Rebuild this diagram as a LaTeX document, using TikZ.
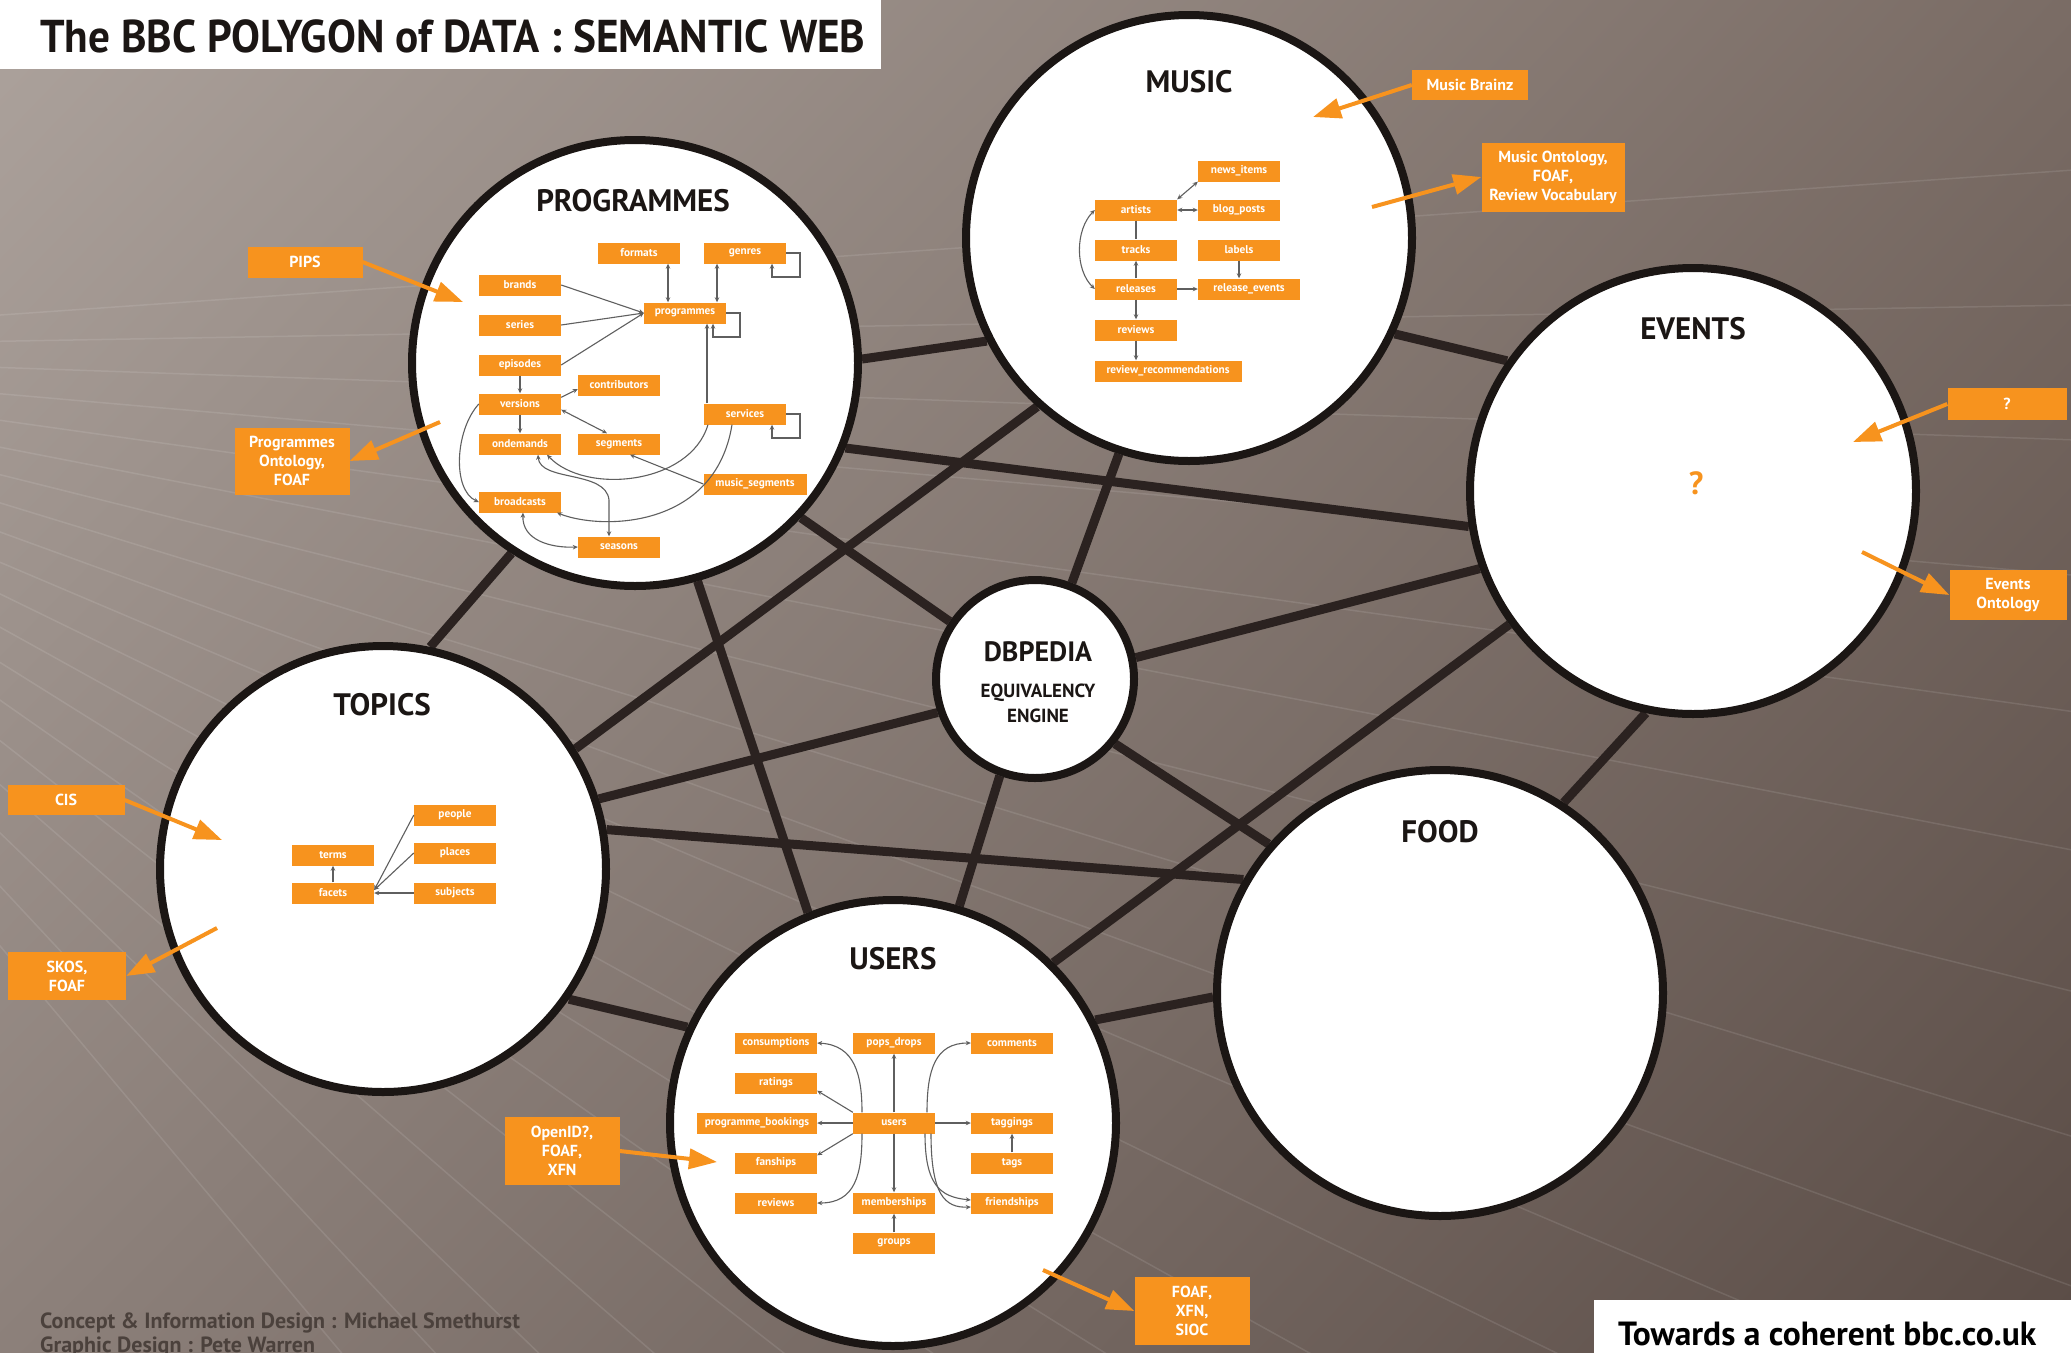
\documentclass[tikz,border=0pt]{standalone}
\usepackage{fontspec}
\setmainfont{PT Sans}
\newfontfamily\condb{PT Sans Bold}[FakeStretch=0.94]
\newfontfamily\tagf{PT Sans Bold}
\usetikzlibrary{arrows.meta,shadings}
\pgfdeclarelayer{back}
\pgfdeclarelayer{links}
\pgfsetlayers{back,links,main}
\definecolor{bbcorange}{RGB}{247,147,30}
\definecolor{ink}{RGB}{27,22,20}
\definecolor{linkc}{RGB}{43,34,32}
\definecolor{relc}{RGB}{95,95,95}
\definecolor{credit}{RGB}{75,65,60}
\definecolor{bgUL}{RGB}{172,162,156}
\definecolor{bgUR}{RGB}{122,108,101}
\definecolor{bgLL}{RGB}{140,128,122}
\definecolor{bgLR}{RGB}{90,76,70}
\begin{document}
\begin{tikzpicture}[x=1pt,y=-1pt,
  >={Stealth[length=5pt,width=4.5pt]},
  hub/.style={circle,draw=ink,line width=8pt,fill=white,minimum size=446pt,inner sep=0pt},
  dbhub/.style={hub,minimum size=198pt},
  hublink/.style={draw=linkc,line width=9pt},
  hubtitle/.style={font=\bfseries\fontsize{31}{34}\selectfont,text=ink,inner sep=0pt},
  ibox/.style={fill=bbcorange,text=white,font=\tagf\fontsize{11.3}{12}\selectfont,minimum width=82pt,minimum height=21pt,inner sep=0pt},
  rel/.style={draw=relc,line width=1.1pt,->},
  birel/.style={draw=relc,line width=1.1pt,<->},
  relplain/.style={draw=relc,line width=1.1pt},
  tagbox/.style={fill=bbcorange,text=white,font=\tagf\fontsize{16}{19}\selectfont,align=center,inner sep=0pt},
  tagarrow/.style={draw=bbcorange,line width=4pt,-{Triangle[length=28pt,width=20pt]}},
]
\useasboundingbox (0,0) rectangle (2071,1352);

% background
\begin{pgfonlayer}{back}
\shade[upper left=bgUL,upper right=bgUR,lower left=bgLL,lower right=bgLR] (0,0) rectangle (2071,1352);
\begin{scope}
\clip (0,0) rectangle (2071,1352);
\foreach \a in {-4,-1,...,50} \draw[white,opacity=0.1,line width=1.5pt] (-500,350) -- ++(\a:3800);
\end{scope}
\end{pgfonlayer}

% hubs
\node[hub] (prog) at (635,363) {};
\node[hub] (music) at (1189,238) {};
\node[hub] (events) at (1693,491) {};
\node[dbhub] (db) at (1035,679) {};
\node[hub] (topics) at (383,869) {};
\node[hub] (food) at (1440,993) {};
\node[hub] (users) at (893,1123) {};

% links between hubs
\begin{pgfonlayer}{links}
\draw[hublink] (prog.1) -- (music.207);
\draw[hublink] (music.-25) -- (events.145);
\draw[hublink] (prog.-22) -- (events.189);
\draw[hublink] (prog.-43) -- (db.146);
\draw[hublink] (prog.237) -- (topics.78);
\draw[hublink] (prog.-74) -- (users.112);
\draw[hublink] (music.252) -- (db.69);
\draw[hublink] (music.228) -- (topics.32);
\draw[hublink] (events.200) -- (db.12);
\draw[hublink] (events.216) -- (users.45);
\draw[hublink] (events.258) -- (food.57);
\draw[hublink] (db.199) -- (topics.18);
\draw[hublink] (db.250) -- (users.73);
\draw[hublink] (db.-39) -- (food.139);
\draw[hublink] (topics.10) -- (food.150);
\draw[hublink] (topics.-35) -- (users.155);
\draw[hublink] (users.27) -- (food.181);
\end{pgfonlayer}

% hub titles
\node[hubtitle] (progT) at (633,201) {PROGRAMMES};
\node[hubtitle] (musicT) at (1189,82) {MUSIC};
\node[hubtitle] (eventsT) at (1693,329) {EVENTS};
\node[hubtitle] (topicsT) at (382,705) {TOPICS};
\node[hubtitle] (foodT) at (1440,832) {FOOD};
\node[hubtitle] (usersT) at (893,959) {USERS};
\node[font=\bfseries\fontsize{28}{30}\selectfont,text=ink,inner sep=0pt] (dbT) at (1038,652) {DBPEDIA};
\node[font=\bfseries\fontsize{19}{25}\selectfont,text=ink,align=center,inner sep=0pt] (dbS) at (1038,703) {EQUIVALENCY\\ENGINE};
\node[text=bbcorange,font=\bfseries\fontsize{32}{32}\selectfont,inner sep=0pt] (evq) at (1696,483) {?};

% programmes internals
\node[ibox] (formats) at (639,253) {formats};
\node[ibox] (genres) at (745,253) {genres};
\node[ibox] (brands) at (520,285) {brands};
\node[ibox] (programmes) at (685,313) {programmes};
\node[ibox] (series) at (520,325) {series};
\node[ibox] (episodes) at (520,365) {episodes};
\node[ibox] (contributors) at (619,385) {contributors};
\node[ibox] (versions) at (520,404) {versions};
\node[ibox] (services) at (745,414) {services};
\node[ibox] (ondemands) at (520,444) {ondemands};
\node[ibox] (segments) at (619,444) {segments};
\node[ibox,minimum width=103pt] (musicseg) at (755,484) {music\_segments};
\node[ibox] (broadcasts) at (520,502) {broadcasts};
\node[ibox] (seasons) at (619,547) {seasons};

\draw[rel] (brands.east) -- (programmes.west);
\draw[rel] (series.east) -- (programmes.west);
\draw[rel] (episodes.east) -- (programmes.west);
\draw[birel] (668,0 |- formats.south) -- (668,0 |- programmes.north);
\draw[birel] (717,0 |- genres.south) -- (717,0 |- programmes.north);
\draw[rel] (genres.east) -| (800,277) -| (772,0 |- genres.south);
\draw[rel] (programmes.east) -| (740,337) -| (713,0 |- programmes.south);
\draw[rel] (services.east) -| (800,438) -| (772,0 |- services.south);
\draw[rel] (707,0 |- services.north) -- (707,0 |- programmes.south);
\draw[rel] (episodes.south) -- (versions.north);
\draw[rel] (versions.south) -- (ondemands.north);
\draw[rel] ([yshift=-4pt]versions.north east) -- ([yshift=-4pt]contributors.west);
\draw[birel] ([yshift=5pt]versions.south east) -- (607,0 |- segments.north);
\draw[rel] (versions.west) .. controls (455,430) and (452,490) .. (broadcasts.west);
\draw[rel] (708,0 |- services.south) .. controls (690,485) and (585,495) .. (547,0 |- ondemands.south);
\draw[rel] (732,0 |- services.south) .. controls (715,530) and (600,530) .. (557,0 |- broadcasts.south);
\draw[rel] (musicseg.west) -- (630,0 |- segments.south);
\draw[birel] (609,0 |- seasons.north) -- (609,500) .. controls (606,470) and (540,482) .. (538,0 |- ondemands.south);
\draw[birel] (523,0 |- broadcasts.south) .. controls (522,540) and (550,548) .. (seasons.west);

% music internals
\node[ibox] (newsitems) at (1239,171) {news\_items};
\node[ibox] (artists) at (1136,210) {artists};
\node[ibox] (blogposts) at (1239,210) {blog\_posts};
\node[ibox] (tracks) at (1136,250) {tracks};
\node[ibox] (labels) at (1239,250) {labels};
\node[ibox] (releases) at (1136,289) {releases};
\node[ibox,minimum width=102pt] (relevents) at (1249,289) {release\_events};
\node[ibox] (mreviews) at (1136,330) {reviews};
\node[ibox,minimum width=147pt] (revrec) at (1168,371) {review\_recommendations};

\draw[birel] (artists.north east) -- (newsitems.south west);
\draw[birel] (blogposts.west) -- (artists.east);
\draw[relplain] (artists.south) -- (tracks.north);
\draw[rel] (releases.north) -- (tracks.south);
\draw[birel] (artists.west) .. controls (1075,230) and (1075,270) .. (releases.west);
\draw[rel] (releases.east) -- (relevents.west);
\draw[rel] (labels.south) -- (1239,0 |- relevents.north);
\draw[rel] (releases.south) -- (mreviews.north);
\draw[rel] (mreviews.south) -- (1136,0 |- revrec.north);

% users internals
\node[ibox] (consumptions) at (776,1043) {consumptions};
\node[ibox] (popsdrops) at (894,1043) {pops\_drops};
\node[ibox] (comments) at (1012,1043) {comments};
\node[ibox] (ratings) at (776,1083) {ratings};
\node[ibox,minimum width=120pt] (progbook) at (757,1123) {programme\_bookings};
\node[ibox] (uusers) at (894,1123) {users};
\node[ibox] (taggings) at (1012,1123) {taggings};
\node[ibox] (fanships) at (776,1163) {fanships};
\node[ibox] (tags) at (1012,1163) {tags};
\node[ibox] (ureviews) at (776,1203) {reviews};
\node[ibox] (memberships) at (894,1203) {memberships};
\node[ibox] (friendships) at (1012,1203) {friendships};
\node[ibox] (groups) at (894,1243) {groups};

\draw[rel] (862,0 |- uusers.north) .. controls (862,1075) and (855,1045) .. (consumptions.east);
\draw[rel] (uusers.north west) -- ([yshift=3pt]ratings.south east);
\draw[rel] (uusers.west) -- (progbook.east);
\draw[rel] (uusers.south west) -- ([yshift=-3pt]fanships.north east);
\draw[rel] (862,0 |- uusers.south) .. controls (862,1175) and (855,1203) .. (ureviews.east);
\draw[rel] (uusers.north) -- (popsdrops.south);
\draw[rel] (uusers.south) -- (memberships.north);
\draw[rel] (groups.north) -- (memberships.south);
\draw[rel] (927,0 |- uusers.north) .. controls (927,1070) and (935,1043) .. (comments.west);
\draw[rel] (uusers.east) -- (taggings.west);
\draw[rel] (tags.north) -- (taggings.south);
\draw[rel] (925,0 |- uusers.south) .. controls (925,1185) and (940,1197) .. ([yshift=3pt]friendships.west);
\draw[rel] (931,0 |- uusers.south) .. controls (931,1195) and (945,1208) .. ([yshift=-4pt]friendships.west);

% topics internals
\node[ibox] (people) at (455,815) {people};
\node[ibox] (terms) at (333,855) {terms};
\node[ibox] (places) at (455,853) {places};
\node[ibox] (facets) at (333,893) {facets};
\node[ibox] (subjects) at (455,893) {subjects};
\draw[rel] (facets.north) -- (terms.south);
\draw[rel] (people.west) -- ([yshift=3pt]facets.east);
\draw[rel] (places.west) -- ([yshift=3pt]facets.east);
\draw[rel] (subjects.west) -- (facets.east);

% orange tags
\node[tagbox,minimum width=115pt,minimum height=31pt] (pips) at (305,262) {PIPS};
\node[tagbox,minimum width=115pt,minimum height=67pt] (progont) at (292,461) {Programmes\\Ontology,\\FOAF};
\node[tagbox,minimum width=116pt,minimum height=30pt] (brainz) at (1470,85) {Music Brainz};
\node[tagbox,minimum width=143pt,minimum height=69pt] (musont) at (1553,177) {Music Ontology,\\FOAF,\\Review Vocabulary};
\node[tagbox,minimum width=119pt,minimum height=32pt] (evqt) at (2007,404) {?};
\node[tagbox,minimum width=117pt,minimum height=50pt] (evont) at (2008,595) {Events\\Ontology};
\node[tagbox,minimum width=117pt,minimum height=30pt] (cis) at (66,800) {CIS};
\node[tagbox,minimum width=118pt,minimum height=48pt] (skos) at (67,976) {SKOS,\\FOAF};
\node[tagbox,minimum width=115pt,minimum height=68pt] (openid) at (562,1151) {OpenID?,\\FOAF,\\XFN};
\node[tagbox,minimum width=115pt,minimum height=68pt] (foafx) at (1192,1311) {FOAF,\\XFN,\\SIOC};

\coordinate (pipsT) at (463,302);
\coordinate (progontS) at (440,422);
\coordinate (brainzT) at (1313,117);
\coordinate (musontS) at (1372,207);
\coordinate (evqT) at (1853,442);
\coordinate (evontS) at (1862,552);
\coordinate (cisT) at (222,840);
\coordinate (skosS) at (217,928);
\coordinate (openidT) at (717,1162);
\coordinate (foafxS) at (1043,1270);

\draw[tagarrow] (pips.east) -- (pipsT);
\draw[tagarrow] (progontS) -- (progont.east);
\draw[tagarrow] (brainz.west) -- (brainzT);
\draw[tagarrow] (musontS) -- (musont.west);
\draw[tagarrow] (evqt.west) -- (evqT);
\draw[tagarrow] (evontS) -- (evont.west);
\draw[tagarrow] (cis.east) -- (cisT);
\draw[tagarrow] (skosS) -- (skos.east);
\draw[tagarrow] (openid.east) -- (openidT);
\draw[tagarrow] (foafxS) -- (foafx.west);

% title and footers
\node[fill=white,minimum width=881pt,minimum height=69pt,anchor=north west,inner sep=0pt] (titlebox) at (0,0) {};
\node[anchor=west,font=\condb\fontsize{46}{46}\selectfont,text=ink,inner sep=0pt] (title) at (40,36) {The BBC POLYGON of DATA : SEMANTIC WEB};
\node[anchor=base west,font=\tagf\fontsize{22}{22}\selectfont,text=credit,inner sep=0pt] (cred1) at (40,1328) {Concept \& Information Design : Michael Smethurst};
\node[anchor=base west,font=\tagf\fontsize{22}{22}\selectfont,text=credit,inner sep=0pt] (cred2) at (40,1352) {Graphic Design : Pete Warren};
\node[fill=white,minimum width=477pt,minimum height=55pt,anchor=north west,inner sep=0pt] (towbox) at (1594,1300) {};
\node[anchor=base west,font=\tagf\fontsize{33.5}{34}\selectfont,text=black,inner sep=0pt] (tow) at (1618,1345) {Towards a coherent bbc.co.uk};
\end{tikzpicture}
\end{document}
